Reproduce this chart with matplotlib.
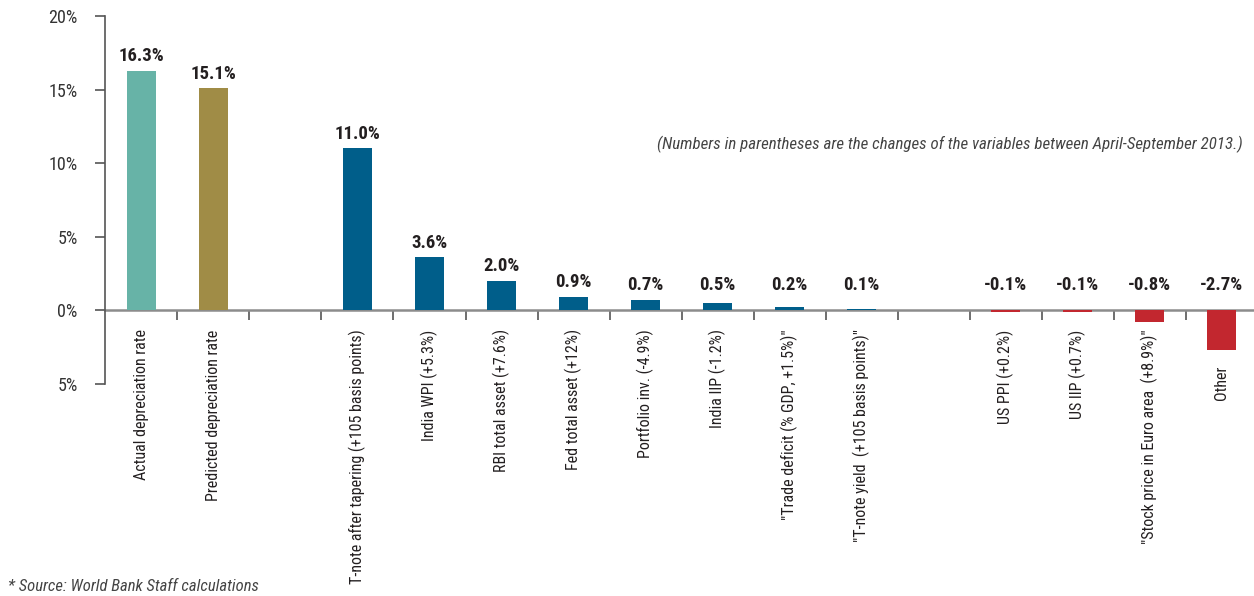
import numpy as np
import matplotlib
matplotlib.use("Agg")
import matplotlib.pyplot as plt
from matplotlib.ticker import FixedLocator

plt.rcParams["font.family"] = ["Roboto Condensed", "IBM Plex Sans Condensed",
                               "DejaVu Sans"]

# categories ('' = empty slot between groups)
labels = [
    "Actual depreciation rate",
    "Predicted depreciation rate",
    "",
    "T-note after tapering (+105 basis points)",
    "India WPI (+5.3%)",
    "RBI total asset (+7.6%)",
    "Fed total asset (+12%)",
    "Portfolio inv. (-4.9%)",
    "India IIP (-1.2%)",
    '"Trade deficit (% GDP, +1.5%)"',
    '"T-note yield  (+105 basis points)"',
    "",
    "US PPI (+0.2%)",
    "US IIP (+0.7%)",
    '"Stock price in Euro area  (+8.9%)"',
    "Other",
]
values = [16.3, 15.1, None, 11.0, 3.6, 2.0, 0.9, 0.7, 0.5, 0.2, 0.1,
          None, -0.1, -0.1, -0.8, -2.7]
groups = ["actual", "predicted", None, "pos", "pos", "pos", "pos", "pos",
          "pos", "pos", "pos", None, "neg", "neg", "neg", "neg"]
yticks = [-5, 0, 5, 10, 15, 20]
ytick_labels = ["5%", "0%", "5%", "10%", "15%", "20%"]

colors = {"actual": "#67b3a7", "predicted": "#a08c46",
          "pos": "#005e8a", "neg": "#c2272f"}

fig = plt.figure(figsize=(12.54, 5.96), dpi=100)
ax = fig.add_axes([0.0841, 0.356, 0.9159, 0.617])

# spines first: set_position resets the tick objects
for s in ["top", "right"]:
    ax.spines[s].set_visible(False)
ax.spines["bottom"].set_position(("data", 0))
ax.spines["bottom"].set_color("#8c8c8c")
ax.spines["bottom"].set_linewidth(1.8)
ax.spines["bottom"].set_zorder(2)
ax.spines["left"].set_color("#555555")
ax.spines["left"].set_linewidth(1.2)

x = np.arange(len(labels))
for xi, v, g, lab in zip(x, values, groups, labels):
    if v is None:
        continue
    ax.bar(xi, v, width=0.4, color=colors[g], zorder=3)
    ax.annotate(f"{v:.1f}%", (xi, max(v, 0.7)), xytext=(0, 4),
                textcoords="offset points", ha="center", va="bottom",
                fontsize=13.5, fontweight="bold", color="#231f20")
    # category label; a deep negative bar pushes its label below the bar
    if v < -1.5:
        anchor, off = v, 11.5
    else:
        anchor, off = 0, 13.7
    ax.annotate(lab, (xi, anchor), xytext=(0, -off),
                textcoords="offset points", rotation=90, ha="center",
                va="top", fontsize=11.5, color="#231f20",
                annotation_clip=False)

ax.set_xlim(-0.5, 15.45)
ax.set_ylim(-5, 20)

ax.set_yticks(yticks)
ax.set_yticklabels(ytick_labels)
ax.tick_params(axis="y", length=7, width=1.2, color="#555555", pad=13,
               labelsize=13, labelcolor="#333333")

ax.set_xticks([])
ax.xaxis.set_minor_locator(FixedLocator(np.arange(0.5, 15, 1.0)))
ax.tick_params(axis="x", which="minor", length=7, width=1.2,
               color="#555555", direction="out")

fig.text(0.991, 0.757,
         "(Numbers in parentheses are the changes of the variables "
         "between April-September 2013.)",
         ha="right", va="center", style="italic", fontsize=12.2,
         color="#444444")
fig.text(0.006, 0.003, "* Source: World Bank Staff calculations",
         ha="left", va="bottom", style="italic", fontsize=12,
         color="#444444")

fig.savefig("out.png", dpi=100)
